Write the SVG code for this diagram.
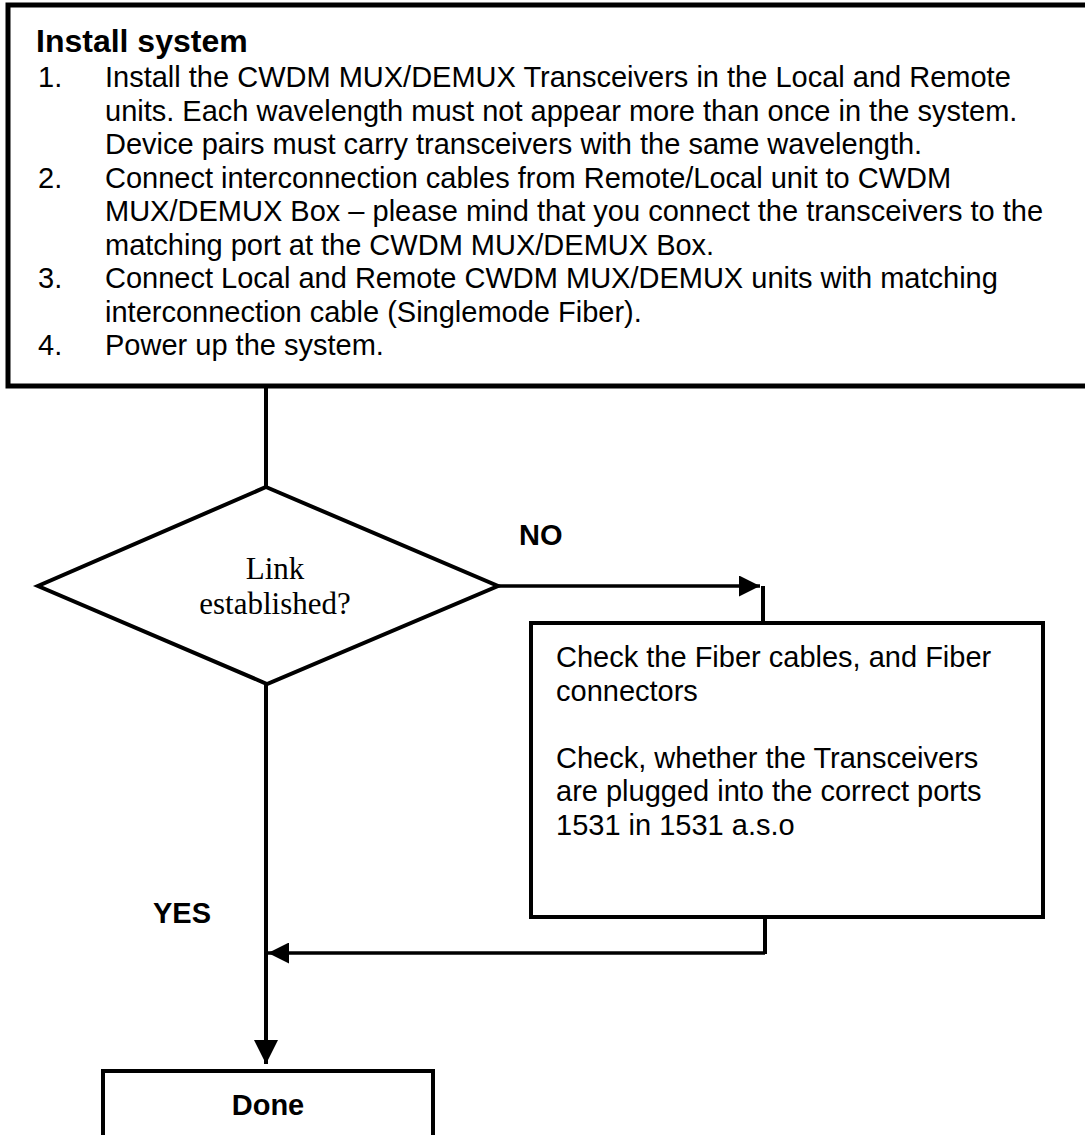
<svg xmlns="http://www.w3.org/2000/svg" width="1085" height="1135" viewBox="0 0 1085 1135">
<style>
.t{font-family:"Liberation Sans",Arial,sans-serif;font-size:29px;fill:#000}
.b{font-family:"Liberation Sans",Arial,sans-serif;font-size:29px;font-weight:bold;fill:#000}
.h{font-family:"Liberation Sans",Arial,sans-serif;font-size:32px;font-weight:bold;fill:#000}
.s{font-family:"Liberation Serif","Times New Roman",serif;font-size:31px;fill:#000}
.box{fill:#fff;stroke:#000;stroke-width:4.5}
.ln{fill:none;stroke:#000;stroke-width:4}
.th{fill:none;stroke:#000;stroke-width:3.5}
</style>
<defs>
<marker id="ah" viewBox="0 0 10 10" refX="10" refY="5" markerWidth="6" markerHeight="6" markerUnits="strokeWidth" orient="auto">
<path d="M0,0 L10,5 L0,10 Z" fill="#000"/>
</marker>
</defs>
<rect width="1085" height="1135" fill="#fff"/>
<g id="install">
<rect class="box" x="8" y="5" width="1100" height="381" style="stroke-width:5"/>
<text class="h" x="36" y="52">Install system</text>
<text class="t" x="38" y="87">1.</text>
<text class="t" x="105" y="87">Install the CWDM MUX/DEMUX Transceivers in the Local and Remote</text>
<text class="t" x="105" y="120.5">units. Each wavelength must not appear more than once in the system.</text>
<text class="t" x="105" y="154">Device pairs must carry transceivers with the same wavelength.</text>
<text class="t" x="38" y="187.5">2.</text>
<text class="t" x="105" y="187.5">Connect interconnection cables from Remote/Local unit to CWDM</text>
<text class="t" x="105" y="221">MUX/DEMUX Box – please mind that you connect the transceivers to the</text>
<text class="t" x="105" y="254.5">matching port at the CWDM MUX/DEMUX Box.</text>
<text class="t" x="38" y="288">3.</text>
<text class="t" x="105" y="288">Connect Local and Remote CWDM MUX/DEMUX units with matching</text>
<text class="t" x="105" y="321.5">interconnection cable (Singlemode Fiber).</text>
<text class="t" x="38" y="355">4.</text>
<text class="t" x="105" y="355">Power up the system.</text>
</g>
<g id="decision">
<polygon class="ln" points="266,487 498,586 267,684 38,586" style="fill:#fff"/>
<text class="s" x="275" y="579" text-anchor="middle">Link</text>
<text class="s" x="275" y="614" text-anchor="middle">established?</text>
</g>
<g id="check">
<rect class="box" x="531" y="623" width="512" height="294" style="stroke-width:4"/>
<text class="t" x="556" y="667">Check the Fiber cables, and Fiber</text>
<text class="t" x="556" y="700.5">connectors</text>
<text class="t" x="556" y="767.5">Check, whether the Transceivers</text>
<text class="t" x="556" y="801">are plugged into the correct ports</text>
<text class="t" x="556" y="834.5">1531 in 1531 a.s.o</text>
</g>
<g id="done">
<rect class="box" x="103" y="1071" width="330" height="100" style="stroke-width:4"/>
<text class="b" x="268" y="1115" text-anchor="middle">Done</text>
</g>
<g id="connectors">
<line class="ln" x1="266" y1="386" x2="266" y2="487"/>
<line class="th" x1="498" y1="586" x2="760" y2="586" marker-end="url(#ah)"/>
<line class="ln" x1="763" y1="586" x2="763" y2="623"/>
<line class="ln" x1="765" y1="917" x2="765" y2="954"/>
<line class="th" x1="765" y1="953" x2="268" y2="953" marker-end="url(#ah)"/>
<line class="ln" x1="266" y1="684" x2="266" y2="1064" marker-end="url(#ah)"/>
<text class="b" x="519" y="545">NO</text>
<text class="b" x="153" y="923">YES</text>
</g>
</svg>
